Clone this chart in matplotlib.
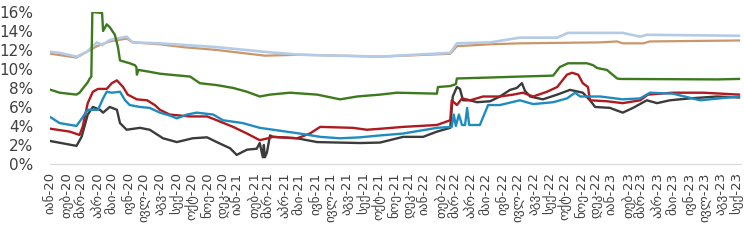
import pandas as pd
import numpy as np
import matplotlib
matplotlib.use('Agg')
import matplotlib.pyplot as plt

# month names (Georgian) for tick labels
month_names = ['იან', 'თებ', 'მარ', 'აპრ', 'მაი', 'ივნ', 'ივლ', 'აგვ', 'სექ', 'ოქტ', 'ნოე', 'დეკ']

# series values (%), each with its own dates
green_dates = ['2020-01-01', '2020-01-18', '2020-02-20', '2020-02-26', '2020-03-13', '2020-03-17', '2020-03-20',
               '2020-03-22', '2020-04-10', '2020-04-12', '2020-04-19', '2020-04-25', '2020-05-05', '2020-05-11',
               '2020-05-15', '2020-06-03', '2020-06-13', '2020-06-16', '2020-06-17', '2020-06-20', '2020-07-12',
               '2020-08-01', '2020-08-20', '2020-09-29', '2020-10-18', '2020-11-20', '2020-12-22', '2021-01-18',
               '2021-02-12', '2021-03-04', '2021-04-12', '2021-06-04', '2021-07-19', '2021-08-21', '2021-10-05',
               '2021-11-07', '2022-01-24', '2022-01-26', '2022-02-19', '2022-03-02', '2022-03-04', '2022-05-08',
               '2022-07-05', '2022-09-08', '2022-09-21', '2022-10-07', '2022-11-13', '2022-11-25', '2022-12-03',
               '2022-12-22', '2023-01-11', '2023-01-17', '2023-07-25', '2023-09-06']
green_vals = [7.8, 7.5, 7.3, 7.5, 8.6, 9.0, 9.2,
              16.0, 15.9, 14.0, 14.7, 14.4, 13.6, 12.3,
              10.9, 10.6, 10.4, 10.2, 9.4, 9.9, 9.7,
              9.5, 9.4, 9.2, 8.5, 8.3, 8.0, 7.6,
              7.1, 7.3, 7.5, 7.3, 6.8, 7.1, 7.3,
              7.5, 7.4, 8.1, 8.2, 8.4, 9.0, 9.1,
              9.2, 9.3, 10.2, 10.6, 10.6, 10.4, 10.1,
              9.9, 9.0, 8.95, 8.9, 8.95]

red_dates = ['2020-01-01', '2020-02-07', '2020-02-26', '2020-03-03', '2020-03-13', '2020-03-23', '2020-04-02',
             '2020-04-19', '2020-04-29', '2020-05-09', '2020-05-21', '2020-05-30', '2020-06-17', '2020-07-07',
             '2020-07-22', '2020-08-01', '2020-08-20', '2020-09-29', '2020-11-01', '2020-11-20', '2020-12-22',
             '2021-01-18', '2021-02-12', '2021-02-28', '2021-03-10', '2021-04-26', '2021-05-21', '2021-06-10',
             '2021-08-13', '2021-09-09', '2021-10-05', '2021-11-19', '2022-01-24', '2022-02-19', '2022-02-22',
             '2022-03-04', '2022-03-14', '2022-03-30', '2022-04-24', '2022-05-27', '2022-06-22', '2022-07-11',
             '2022-07-31', '2022-08-27', '2022-09-16', '2022-10-05', '2022-10-15', '2022-10-27', '2022-11-05',
             '2022-11-15', '2022-11-19', '2022-12-22', '2023-01-22', '2023-02-25', '2023-03-12', '2023-04-30',
             '2023-06-28', '2023-09-06']
red_vals = [3.7, 3.4, 3.05, 3.9, 6.4, 7.6, 7.9,
            7.9, 8.5, 8.8, 8.1, 7.3, 6.8, 6.7,
            6.2, 5.7, 5.2, 5.0, 5.0, 4.6, 3.9,
            3.2, 2.5, 2.7, 2.85, 2.7, 3.2, 3.9,
            3.8, 3.6, 3.7, 3.9, 4.1, 4.6, 6.7,
            6.2, 6.9, 6.7, 7.1, 7.1, 7.3, 7.5,
            7.1, 7.6, 8.1, 9.4, 9.6, 9.4, 8.5,
            8.1, 6.7, 6.6, 6.4, 6.7, 7.3, 7.5,
            7.5, 7.3]

teal_dates = ['2020-01-01', '2020-01-18', '2020-02-20', '2020-03-03', '2020-03-13', '2020-04-02', '2020-04-12',
              '2020-04-19', '2020-04-29', '2020-05-15', '2020-05-25', '2020-06-03', '2020-06-23', '2020-07-12',
              '2020-08-01', '2020-08-20', '2020-09-03', '2020-09-23', '2020-10-12', '2020-11-13', '2020-12-02',
              '2021-01-10', '2021-02-12', '2021-03-23', '2021-05-01', '2021-06-10', '2021-07-19', '2021-08-27',
              '2021-09-15', '2021-10-05', '2021-11-19', '2022-01-24', '2022-02-22', '2022-02-26', '2022-03-02',
              '2022-03-08', '2022-03-14', '2022-03-20', '2022-03-24', '2022-03-28', '2022-04-18', '2022-04-24',
              '2022-05-04', '2022-05-27', '2022-07-05', '2022-07-31', '2022-09-08', '2022-10-05', '2022-10-21',
              '2022-10-31', '2022-12-09', '2023-01-22', '2023-02-25', '2023-03-16', '2023-04-30', '2023-06-22',
              '2023-09-06']
teal_vals = [4.9, 4.3, 4.0, 4.9, 5.7, 5.7, 6.9,
             7.6, 7.5, 7.6, 6.7, 6.2, 6.0, 5.9,
             5.4, 5.1, 4.8, 5.2, 5.4, 5.2, 4.6,
             4.3, 3.8, 3.5, 3.2, 2.85, 2.7, 2.8,
             2.9, 3.0, 3.2, 3.8, 3.9, 5.2, 4.0,
             5.2, 4.1, 4.1, 5.9, 4.1, 4.1, 4.9,
             6.2, 6.2, 6.7, 6.3, 6.5, 6.9, 7.5,
             7.1, 7.1, 6.8, 6.9, 7.5, 7.4, 6.7,
             7.1]

gray_dates = ['2020-01-01', '2020-02-20', '2020-03-01', '2020-03-13', '2020-03-23', '2020-04-06', '2020-04-12',
              '2020-04-25', '2020-05-09', '2020-05-15', '2020-05-28', '2020-06-23', '2020-07-12', '2020-08-07',
              '2020-09-03', '2020-10-04', '2020-11-01', '2020-11-20', '2020-12-16', '2020-12-29', '2021-01-18',
              '2021-02-06', '2021-02-12', '2021-02-18', '2021-02-20', '2021-02-22', '2021-02-26', '2021-03-04',
              '2021-03-10', '2021-04-26', '2021-06-04', '2021-08-27', '2021-10-05', '2021-11-19', '2021-12-28',
              '2022-01-24', '2022-02-19', '2022-02-24', '2022-03-04', '2022-03-10', '2022-03-16', '2022-03-30',
              '2022-04-12', '2022-05-08', '2022-05-27', '2022-06-16', '2022-06-29', '2022-07-09', '2022-07-15',
              '2022-07-25', '2022-08-19', '2022-09-16', '2022-10-11', '2022-11-05', '2022-11-19', '2022-11-29',
              '2022-12-28', '2023-01-22', '2023-02-11', '2023-03-10', '2023-03-30', '2023-04-24', '2023-06-02',
              '2023-07-25', '2023-09-06']
gray_vals = [2.4, 1.9, 2.85, 5.2, 6.0, 5.7, 5.4,
             6.0, 5.7, 4.3, 3.6, 3.8, 3.6, 2.7,
             2.3, 2.7, 2.8, 2.3, 1.65, 0.95, 1.5,
             1.6, 2.2, 0.7, 2.0, 0.7, 1.2, 3.0,
             2.85, 2.7, 2.3, 2.2, 2.25, 2.85, 2.85,
             3.4, 3.8, 7.1, 8.1, 7.9, 6.7, 6.7,
             6.5, 6.6, 7.1, 7.8, 8.0, 8.5, 7.7,
             7.1, 6.8, 7.3, 7.8, 7.5, 6.7, 6.0,
             5.9, 5.4, 5.9, 6.7, 6.4, 6.7, 6.9,
             7.1, 7.0]

lblue_dates = ['2020-01-01', '2020-01-18', '2020-02-20', '2020-03-11', '2020-03-31', '2020-04-10', '2020-04-25',
               '2020-05-28', '2020-06-09', '2020-08-01', '2020-11-20', '2021-02-22', '2021-05-01', '2021-10-05',
               '2022-02-19', '2022-03-04', '2022-05-08', '2022-07-05', '2022-09-16', '2022-10-07', '2023-01-22',
               '2023-02-25', '2023-03-10', '2023-09-06']
lblue_vals = [11.8, 11.7, 11.3, 11.8, 12.8, 12.5, 13.05,
              13.4, 12.8, 12.7, 12.3, 11.8, 11.5, 11.3,
              11.7, 12.7, 12.8, 13.3, 13.3, 13.8, 13.8,
              13.4, 13.6, 13.5]

tan_dates = ['2020-01-01', '2020-02-20', '2020-03-31', '2020-04-25', '2020-05-28', '2020-06-09', '2020-08-01',
             '2020-09-15', '2020-11-20', '2021-02-22', '2021-05-01', '2021-10-05', '2022-02-19', '2022-03-04',
             '2022-05-08', '2022-07-05', '2022-12-09', '2023-01-11', '2023-01-22', '2023-03-03', '2023-03-16',
             '2023-09-06']
tan_vals = [11.6, 11.2, 12.4, 12.9, 13.2, 12.8, 12.6,
            12.3, 12.0, 11.4, 11.5, 11.3, 11.6, 12.4,
            12.6, 12.7, 12.8, 12.9, 12.7, 12.7, 12.9,
            13.0]

plt.rcParams['font.family'] = ['DejaVu Sans']

fig = plt.figure(figsize=(7.44, 2.40), dpi=100)
ax = fig.add_axes([0.067, 0.317, 0.929, 0.633])

series = [
    (tan_dates, tan_vals, '#c9976b', 1.6),
    (lblue_dates, lblue_vals, '#b4cbe6', 1.9),
    (green_dates, green_vals, '#3d7a1e', 1.7),
    (gray_dates, gray_vals, '#3b3b3b', 1.7),
    (red_dates, red_vals, '#ad1a1f', 1.7),
    (teal_dates, teal_vals, '#1f8bbf', 1.7),
]
for d, v, c, lw in series:
    ax.plot(pd.to_datetime(d), v, color=c, linewidth=lw)

ax.set_ylim(0, 16)
ax.set_yticks(np.arange(0, 17, 2))
ax.set_yticklabels([f'{t}%' for t in range(0, 17, 2)])
ax.set_xlim(pd.Timestamp('2019-12-30'), pd.Timestamp('2023-09-10'))

ticks = pd.date_range('2020-01-01', '2023-09-01', freq='MS')
ax.set_xticks(ticks)
ax.set_xticklabels([f'{month_names[t.month - 1]}-{t.year % 100}' for t in ticks], rotation=90)

for s in ['top', 'right', 'left']:
    ax.spines[s].set_visible(False)
ax.spines['bottom'].set_color('#d9d9d9')
ax.tick_params(axis='both', length=0, colors='#404040')
ax.tick_params(axis='y', labelsize=11, pad=12)
ax.tick_params(axis='x', labelsize=9.5, pad=6)

plt.savefig('out.png', dpi=100)
